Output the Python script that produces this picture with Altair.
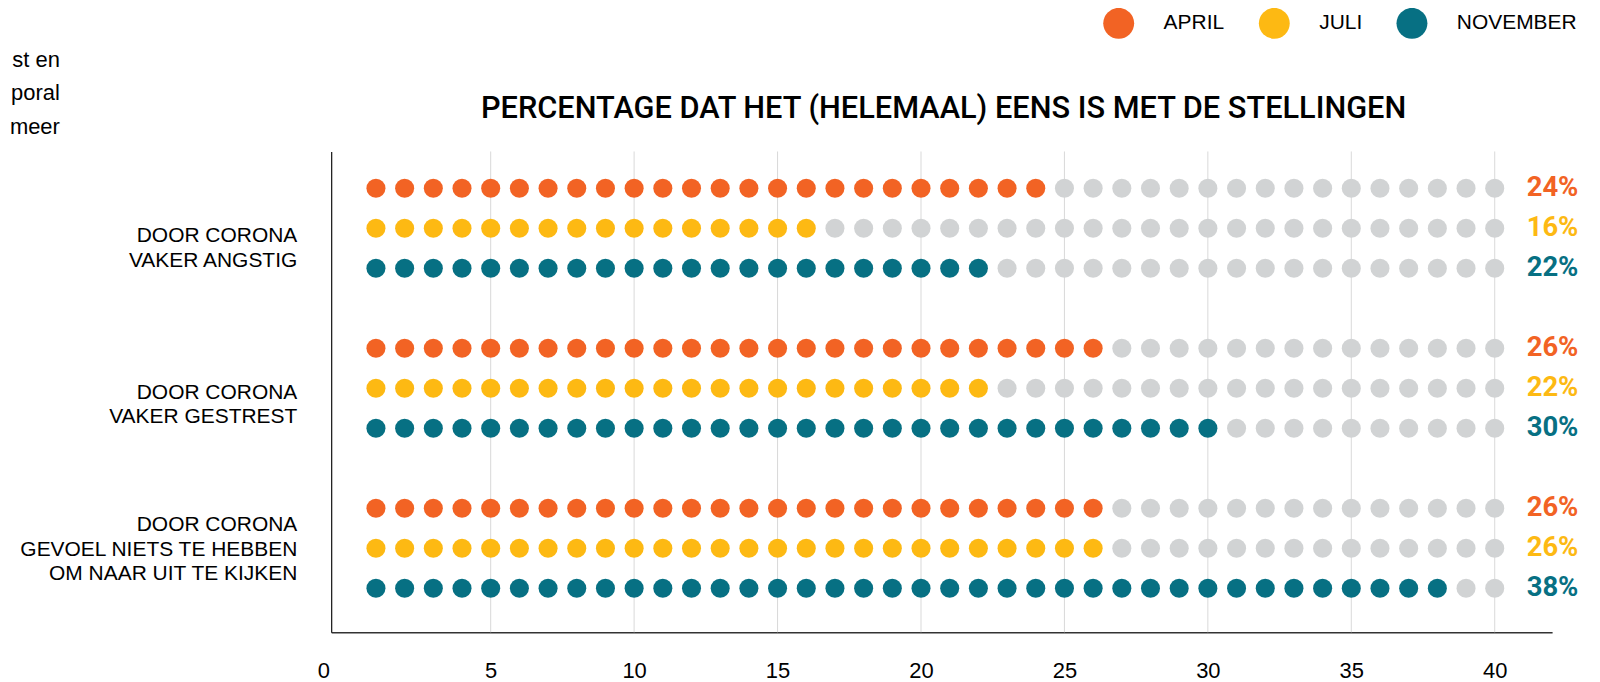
import altair as alt
import pandas as pd

# ---- data ----
stellingen = [
    "DOOR CORONA\nVAKER ANGSTIG",
    "DOOR CORONA\nVAKER GESTREST",
    "DOOR CORONA\nGEVOEL NIETS TE HEBBEN\nOM NAAR UIT TE KIJKEN",
]
maanden = ["APRIL", "JULI", "NOVEMBER"]
april = [24, 26, 26]
juli = [16, 22, 26]
november = [22, 30, 38]
aantal_stippen = 40
as_labels = [0, 5, 10, 15, 20, 25, 30, 35, 40]
rasterlijnen = [5, 10, 15, 20, 25, 30, 35, 40]
titel = "PERCENTAGE DAT HET (HELEMAAL) EENS IS MET DE STELLINGEN"
fragment = ["st en", "poral", "meer"]

kleuren = ["#F26324", "#FDB913", "#077083", "#D1D3D4"]

waarden = {"APRIL": april, "JULI": juli, "NOVEMBER": november}

stip_rijen = []
pct_rijen = []
for s, stelling in enumerate(stellingen):
    for m, maand in enumerate(maanden):
        v = waarden[maand][s]
        rij = s * 4 + m
        for i in range(1, aantal_stippen + 1):
            stip_rijen.append({"rij": rij, "x": i, "kleur": maand if i <= v else "leeg"})
        pct_rijen.append({"rij": rij, "x": aantal_stippen, "tekst": f"{v}%", "kleur": maand})
stippen = pd.DataFrame(stip_rijen)
pcts = pd.DataFrame(pct_rijen)
raster = pd.DataFrame({"x": rasterlijnen})

xs = alt.Scale(domain=[-0.56, 42.0], nice=False, zero=False)
ys = alt.Scale(domain=[-0.92, 11.1], nice=False, zero=False, reverse=True)
kleurschaal = alt.Scale(domain=maanden + ["leeg"], range=kleuren)

W, H = 1224, 482

grid = alt.Chart(raster).mark_rule(color="#D9D9D9", strokeWidth=1).encode(
    x=alt.X("x:Q", scale=xs),
    y=alt.value(0),
    y2=alt.value(H),
)

dots = alt.Chart(stippen).mark_circle(size=365, opacity=1).encode(
    x=alt.X("x:Q", scale=xs,
            axis=alt.Axis(values=as_labels, grid=False, ticks=False, tickSize=0,
                          domainColor="#333333", domainWidth=1.4,
                          labelFont="Liberation Sans", labelFontSize=22,
                          labelColor="#000000", labelPadding=28,
                          labelOffset={"condition": {"test": "datum.value == 0", "value": -24}, "value": 0},
                          title=None)),
    y=alt.Y("rij:Q", scale=ys,
            axis=alt.Axis(labels=False, ticks=False, grid=False, domainColor="#111111",
                          domainWidth=1.2, title=None)),
    color=alt.Color("kleur:N", scale=kleurschaal,
                    legend=alt.Legend(values=maanden, orient="none", direction="horizontal",
                                      legendX=774, legendY=-144, title=None,
                                      symbolType="circle", symbolSize=960,
                                      symbolStrokeWidth=0, symbolOpacity=1,
                                      labelFont="Liberation Sans", labelFontSize=21,
                                      labelColor="#000000", labelOffset=29.5,
                                      columnPadding=34, padding=0)),
)

pct = alt.Chart(pcts).mark_text(
    align="left", baseline="middle", dx=32, font="Roboto", fontSize=27.5, fontWeight="bold"
).encode(
    x=alt.X("x:Q", scale=xs),
    y=alt.Y("rij:Q", scale=ys),
    text="tekst:N",
    color=alt.Color("kleur:N", scale=kleurschaal, legend=None),
)

# category labels, one layer per statement (vertical nudges are layout only)
label_dy = [8, 4.5, -23]
label_layers = []
for s, tekst in enumerate(stellingen):
    df = pd.DataFrame({"rij": [s * 4 + 1], "tekst": [tekst]})
    label_layers.append(
        alt.Chart(df).mark_text(
            align="right", baseline="middle", font="Liberation Sans", fontSize=21,
            lineBreak="\n", lineHeight=24.5, color="#000000", dy=label_dy[s]
        ).encode(x=alt.value(-34), y=alt.Y("rij:Q", scale=ys), text="tekst:N")
    )

title_layer = alt.Chart(pd.DataFrame({"t": [titel]})).mark_text(
    align="center", baseline="middle", font="Roboto", fontSize=30.8, fontWeight=500,
    color="#000000"
).encode(x=alt.value(W / 2 + 2), y=alt.value(-43), text="t:N")

frag_layer = alt.Chart(pd.DataFrame({"t": ["\n".join(fragment)]})).mark_text(
    align="right", baseline="top", font="Liberation Sans", fontSize=22,
    lineBreak="\n", lineHeight=33.5, color="#000000"
).encode(x=alt.value(60 - 332), y=alt.value(49 - 151), text="t:N")

chart = alt.layer(grid, dots, pct, *label_layers, title_layer, frag_layer).properties(
    width=W, height=H,
    autosize=alt.AutoSizeParams(type="none"),
    padding={"left": 324, "top": 143, "right": 40, "bottom": 49},
).configure_view(stroke=None).resolve_scale(color="shared")

chart.save("out.html", embed_options={"renderer": "svg", "actions": False})
